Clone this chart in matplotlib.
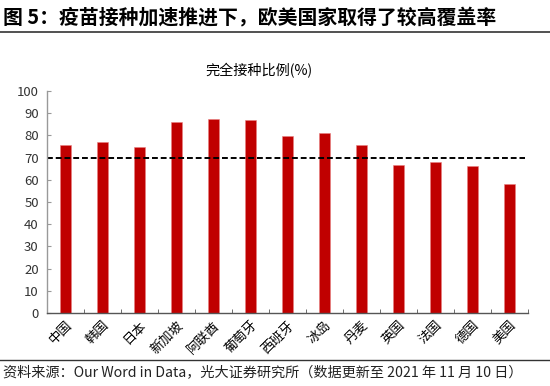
import matplotlib
matplotlib.use("Agg")
import matplotlib.pyplot as plt
from matplotlib.lines import Line2D

plt.rcParams['font.family'] = ['Noto Sans CJK SC', 'DejaVu Sans']

# data
countries = ["中国", "韩国", "日本", "新加坡", "阿联酋", "葡萄牙", "西班牙",
             "冰岛", "丹麦", "英国", "法国", "德国", "美国"]
full_vax = [75.8, 77.0, 74.6, 86.0, 87.5, 87.2, 79.9, 81.1, 75.8, 66.9, 68.2, 66.4, 58.3]
ref_level = 70
y_ticks = list(range(0, 101, 10))

title = "图 5：疫苗接种加速推进下，欧美国家取得了较高覆盖率"
chart_title = "完全接种比例(%)"
source = "资料来源：Our Word in Data，光大证券研究所（数据更新至 2021 年 11 月 10 日）"

fig = plt.figure(figsize=(5.5, 3.86), dpi=100)
ax = fig.add_axes([0.0855, 0.189, 0.8745, 0.575])

x = list(range(len(countries)))
ax.bar(x, full_vax, width=0.3, color="#C00000", edgecolor="#E88080", linewidth=0.4)
ax.plot([-0.5, 12.42], [ref_level, ref_level], color="black", linestyle=(0, (3, 1.5)),
        linewidth=1.4)

ax.set_xlim(-0.5, len(countries) - 0.5)
ax.set_ylim(0, 100)
ax.set_yticks(y_ticks)
ax.tick_params(axis="y", direction="in", length=3, color="#999999", labelsize=9.5,
               labelcolor="#333333", pad=6)
ax.set_xticks(x)
ax.set_xticklabels(countries, rotation=45, ha="right", rotation_mode="anchor", fontsize=9.5)
ax.tick_params(axis="x", which="major", length=0, pad=4)
ax.set_xticks([i + 0.5 for i in range(-1, len(countries))], minor=True)
ax.tick_params(axis="x", which="minor", direction="in", length=3, color="#555555")

for side in ["top", "right"]:
    ax.spines[side].set_visible(False)
ax.spines["left"].set_color("#999999")
ax.spines["bottom"].set_color("#555555")
ax.spines["left"].set_linewidth(1.0)
ax.spines["bottom"].set_linewidth(1.0)

fig.text(0.006, 0.955, title, fontsize=14.3, fontweight="bold", va="center", ha="left")
fig.add_artist(Line2D([0, 1], [0.918, 0.918], color="#333333", linewidth=1.2))
fig.text(259 / 550, 0.818, chart_title, fontsize=10.2, va="center", ha="center")
fig.add_artist(Line2D([0, 1], [0.068, 0.068], color="#333333", linewidth=1.0))
fig.text(0.006, 0.035, source, fontsize=10.2, va="center", ha="left", color="#222222")

fig.savefig("out.png", dpi=100)
